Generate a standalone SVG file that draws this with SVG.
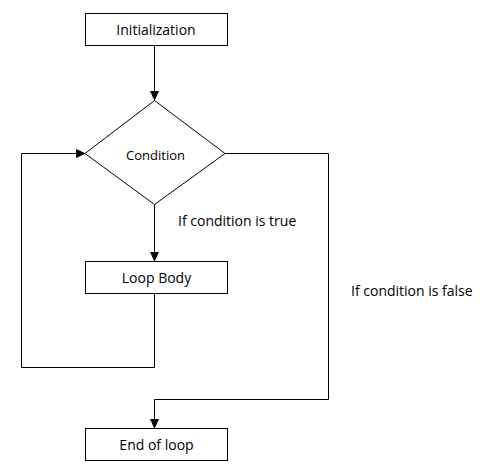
<svg xmlns="http://www.w3.org/2000/svg" width="480" height="473" viewBox="0 0 480 473">
<style>
.box{fill:#fff;stroke:#000;stroke-width:1}
.t{font-family:"Open Sans","Liberation Sans",sans-serif;font-size:14px;fill:#000}
.c{text-anchor:middle}
.ln{fill:none;stroke:#000;stroke-width:1}
</style>
<defs>
<marker id="arr" markerWidth="10" markerHeight="10" refX="9" refY="5" orient="auto" markerUnits="userSpaceOnUse">
<path d="M0,0.5 L10,5 L0,9.5 Z" fill="#000"/>
</marker>
</defs>
<rect width="480" height="473" fill="#fff"/>
<g id="connectors">
<path class="ln" d="M154.5,45.5 V100" marker-end="url(#arr)"/>
<path class="ln" d="M154.5,204 V261" marker-end="url(#arr)"/>
<path class="ln" d="M154.5,293 V367.5 H21.5 V153.5 H85" marker-end="url(#arr)"/>
<path class="ln" d="M225,153.5 H328.5 V399.5 H154.5 V428" marker-end="url(#arr)"/>
</g>
<g id="initialization">
<rect class="box" x="85.5" y="13.5" width="142" height="32"/>
<text class="t c" x="156" y="35">Initialization</text>
</g>
<g id="condition">
<polygon class="box" points="154.5,100.5 225,153.5 154.5,204.5 85,153.5"/>
<text class="t c" x="155.5" y="160" style="font-size:13px">Condition</text>
</g>
<g id="loop-body">
<rect class="box" x="85.5" y="261.5" width="142" height="32"/>
<text class="t c" x="156.5" y="283">Loop Body</text>
</g>
<g id="end-of-loop">
<rect class="box" x="85.5" y="428.5" width="142" height="32"/>
<text class="t c" x="156.5" y="450">End of loop</text>
</g>
<g id="labels">
<text class="t" x="178" y="226">If condition is true</text>
<text class="t" x="351" y="296">If condition is false</text>
</g>
</svg>
